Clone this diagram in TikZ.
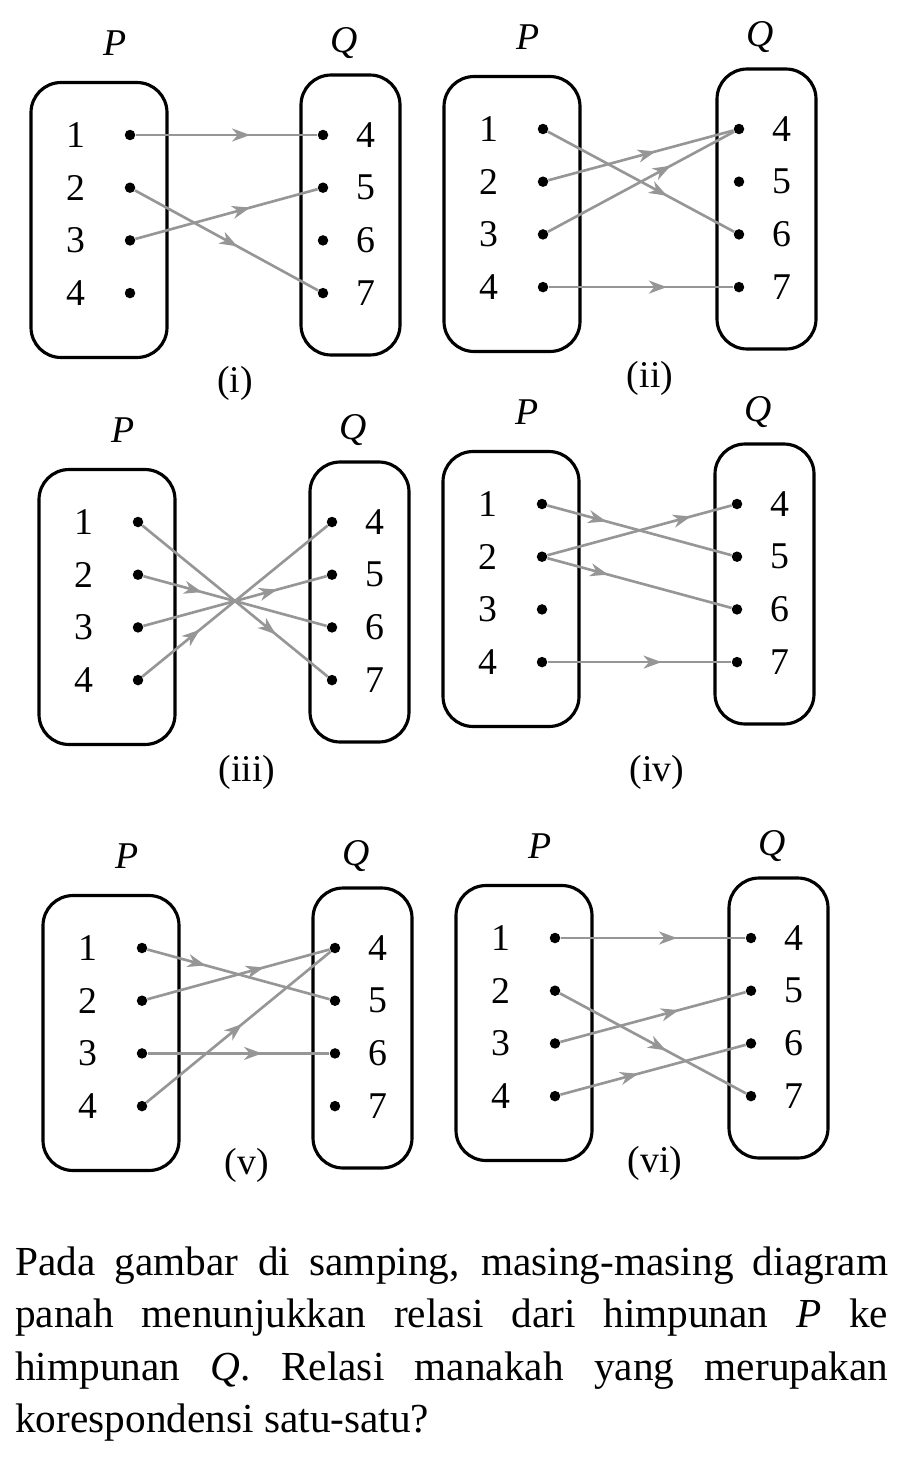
\documentclass[tikz,border=0pt]{standalone}
\usepackage{fontspec}
\setmainfont{Liberation Serif}
\usetikzlibrary{arrows.meta,decorations.markings}
\definecolor{abu}{RGB}{150,150,150}

\newcommand{\himpunan}[4]{%
\node[kotakP] (#1-P) at (#2-31,#4+85) {};
\node[kotakQ] (#1-Q) at (#3+27.5,#4+80) {};
\node[huruf] (#1-labelP) at (#2-15,#4-92) {\textit{P}};
\node[huruf] (#1-labelQ) at (#3+21,#4-92) {\textit{Q}};
\foreach \i in {1,...,4}{
	\node[titik] (#1-p\i) at (#2,#4+52.7*\i-52.7) {};
	\node[huruf] (#1-a\i) at (#2-54,#4+52.7*\i-52.7) {\i};
}
\foreach \i/\j in {1/4,2/5,3/6,4/7}{
	\node[titik] (#1-q\j) at (#3,#4+52.7*\i-52.7) {};
	\node[huruf] (#1-b\j) at (#3+43,#4+52.7*\i-52.7) {\j};
}
}

\begin{document}
\begin{tikzpicture}[x=0.02cm, y=-0.02cm,
	kotakP/.style={draw, line width=1.8pt, rounded corners=0.6cm, minimum width=2.72cm, minimum height=5.5cm},
	kotakQ/.style={draw, line width=1.8pt, rounded corners=0.6cm, minimum width=1.98cm, minimum height=5.6cm},
	titik/.style={circle, fill=black, inner sep=0, minimum size=0.21cm},
	huruf/.style={font=\fontsize{21.5}{25}\selectfont, inner sep=0},
	panah/.style={draw=abu, color=abu, line width=1.5pt, postaction={decorate},
		decoration={markings, mark=at position #1 with {\arrow{Stealth[length=0.36cm,width=0.26cm,inset=0.11cm]}}}},
	panah/.default=0.6,
	teks/.style={font=\fontsize{23.5}{29.9}\selectfont, text width=17.46cm, align=justify, inner sep=0}]
\useasboundingbox (0,0) rectangle (912,1460);

\himpunan{i}{130}{323}{135}
	\draw[panah=0.63] (i-p1) -- (i-q4);
	\draw[panah=0.56] (i-p2) -- (i-q7);
	\draw[panah=0.63] (i-p3) -- (i-q5);
\node[huruf] (cap-i) at (235,383) {(i)};

\himpunan{ii}{543}{739}{129}
	\draw[panah=0.64] (ii-p1) -- (ii-q6);
	\draw[panah=0.58] (ii-p2) -- (ii-q4);
	\draw[panah=0.66] (ii-p3) -- (ii-q4);
	\draw[panah=0.64] (ii-p4) -- (ii-q7);
\node[huruf] (cap-ii) at (650,378) {(ii)};

\himpunan{iii}{138}{332}{522}
	\draw[panah=0.72] (iii-p1) -- (iii-q7);
	\draw[panah=0.32] (iii-p2) -- (iii-q6);
	\draw[panah=0.73] (iii-p3) -- (iii-q5);
	\draw[panah=0.31] (iii-p4) -- (iii-q4);
\node[huruf] (cap-iii) at (247,772) {(iii)};

\himpunan{iv}{542}{737}{504}
	\draw[panah=0.32] (iv-p1) -- (iv-q5);
	\draw[panah=0.78] (iv-p2) -- (iv-q4);
	\draw[panah=0.33] (iv-p2) -- (iv-q6);
	\draw[panah=0.62] (iv-p4) -- (iv-q7);
\node[huruf] (cap-iv) at (657,772) {(iv)};

\himpunan{v}{142}{335}{948}
	\draw[panah=0.32] (v-p1) -- (v-q5);
	\draw[panah=0.64] (v-p2) -- (v-q4);
	\draw[panah=0.63] (v-p3) -- (v-q6);
	\draw[panah=0.52] (v-p4) -- (v-q4);
\node[huruf] (cap-v) at (247,1165) {(v)};

\himpunan{vi}{555}{751}{938}
	\draw[panah=0.63] (vi-p1) -- (vi-q4);
	\draw[panah=0.57] (vi-p2) -- (vi-q7);
	\draw[panah=0.64] (vi-p3) -- (vi-q5);
	\draw[panah=0.42] (vi-p4) -- (vi-q6);
\node[huruf] (cap-vi) at (655,1163) {(vi)};

\node[teks, anchor=base west] (soal) at (15,1275) {\hbadness=10000 Pada gambar di samping, masing-masing diagram\linebreak panah menunjukkan relasi dari himpunan \textit{P} ke\linebreak himpunan \textit{Q}. Relasi manakah yang merupakan\linebreak korespondensi satu-satu?};
\end{tikzpicture}
\end{document}
